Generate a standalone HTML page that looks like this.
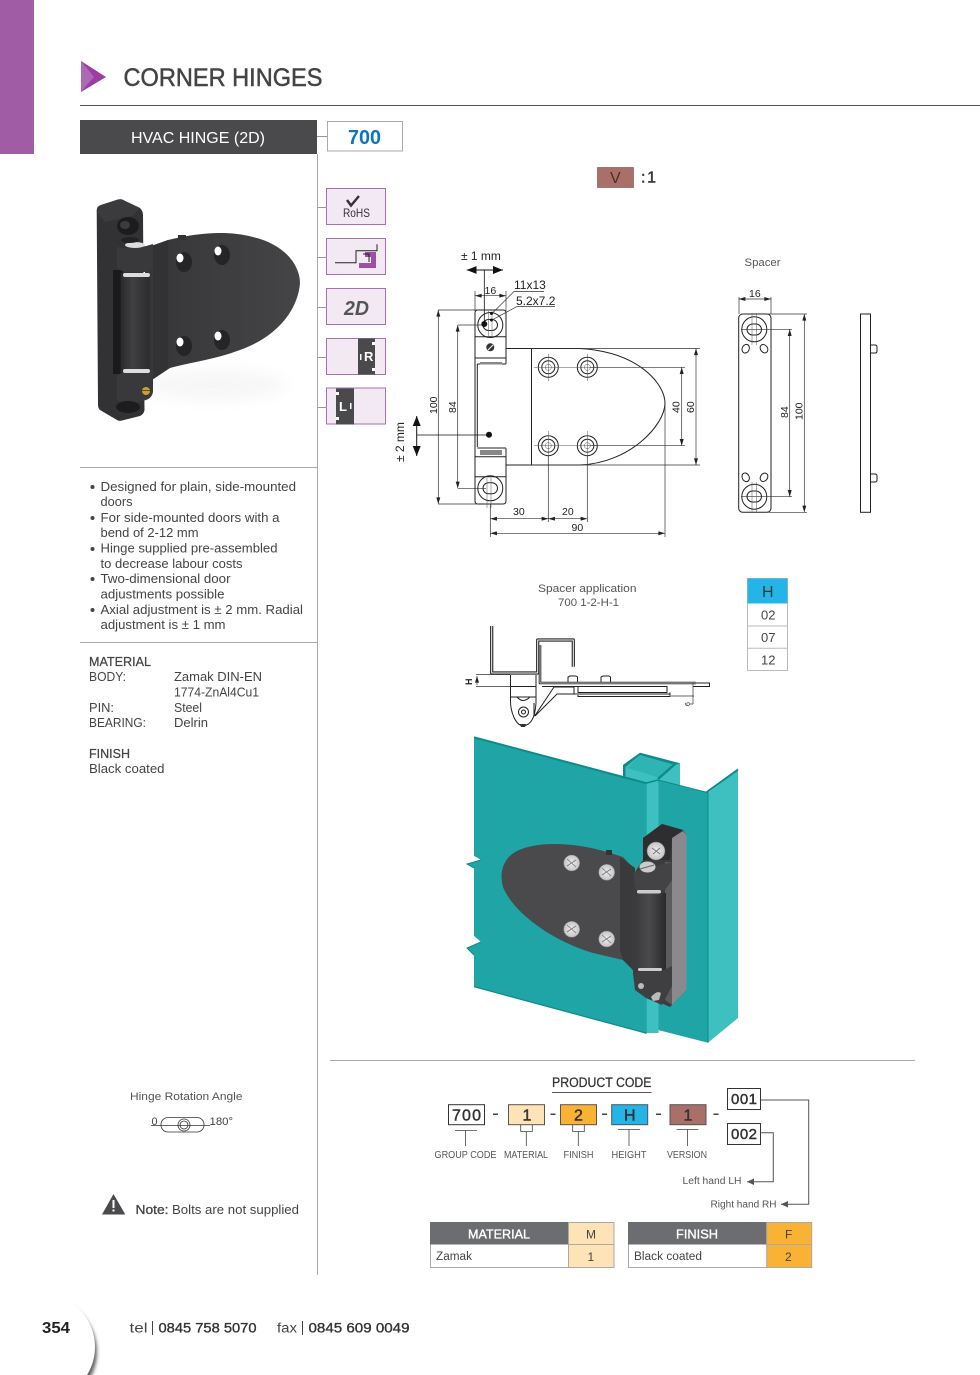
<!DOCTYPE html>
<html><head><meta charset="utf-8"><title>Corner Hinges</title>
<style>
html,body{margin:0;padding:0;background:#fff}
svg{display:block}
text{font-family:"Liberation Sans",sans-serif;fill:#444}
.d{font-size:10.5px;fill:#222}
.b{font-size:13px;fill:#444}
.l{font-size:10px;fill:#555}
.m{stroke:#333;stroke-width:.45;fill:#333}
.dim{fill:none;stroke:#333;stroke-width:.7}
.dr{fill:none;stroke:#222;stroke-width:1}
</style></head><body>
<svg xmlns="http://www.w3.org/2000/svg" width="980" height="1375" viewBox="0 0 980 1375">
<defs>
<marker id="a" viewBox="0 0 10 6" refX="10" refY="3" markerWidth="7" markerHeight="4" orient="auto-start-reverse" markerUnits="userSpaceOnUse"><path d="M0 0L10 3L0 6Z" fill="#222"/></marker>
<marker id="A" viewBox="0 0 10 8" refX="10" refY="4" markerWidth="10" markerHeight="9" orient="auto-start-reverse" markerUnits="userSpaceOnUse"><path d="M0 0L10 4L0 8Z" fill="#111"/></marker>
<filter id="bl" x="-30%" y="-30%" width="160%" height="160%"><feGaussianBlur stdDeviation="1.800"/></filter>
<filter id="bl2" x="-30%" y="-60%" width="160%" height="220%"><feGaussianBlur stdDeviation="7"/></filter>
<linearGradient id="cyl" x1="0" x2="1" y1="0" y2="0"><stop offset="0" stop-color="#2a2a2c"/><stop offset=".4" stop-color="#404042"/><stop offset="1" stop-color="#2c2c2e"/></linearGradient>
<linearGradient id="cyl2" x1="0" x2="1" y1="0" y2="0"><stop offset="0" stop-color="#3a3a3c"/><stop offset=".45" stop-color="#4a4a4c"/><stop offset="1" stop-color="#2a2a2c"/></linearGradient>
<linearGradient id="lf" x1="0" x2="1" y1="0" y2="0"><stop offset="0" stop-color="#363638"/><stop offset="1" stop-color="#454547"/></linearGradient>
<radialGradient id="sc"><stop offset="0" stop-color="#eee"/><stop offset="1" stop-color="#c4c4c4"/></radialGradient>
</defs>

<!-- page header -->
<rect x="0" y="0" width="34" height="154" fill="#a15ca6"/>
<path d="M81 61L106 77L81 92Z" fill="#9c3da3"/><path d="M81 61L94 77L81 92Z" fill="#ac6ab5"/>
<text x="123.500" y="86" font-size="25" textLength="199" lengthAdjust="spacingAndGlyphs" style="fill:#444;stroke:#444;stroke-width:.5">CORNER HINGES</text>
<rect x="80" y="105" width="900" height="1" fill="#555"/>

<rect x="80" y="120" width="237" height="34" fill="#4a4a4c"/>
<text x="131" y="143" font-size="16" style="fill:#fff" textLength="134" lengthAdjust="spacingAndGlyphs">HVAC HINGE (2D)</text>
<rect x="317" y="154" width="1" height="1121" fill="#aaa"/>
<rect x="317" y="136" width="10" height="1" fill="#999"/>
<rect x="327.500" y="121.500" width="75" height="29.500" fill="#fff" stroke="#aaa"/>
<text x="348" y="144" font-size="20" font-weight="bold" style="fill:#0f75bc" textLength="33" lengthAdjust="spacingAndGlyphs">700</text>

<!-- icons -->
<g fill="#f2e9f3" stroke="#a76fb2">
<rect x="326.500" y="188.500" width="59" height="36"/><rect x="326.500" y="238.500" width="59" height="36"/><rect x="326.500" y="288.500" width="59" height="36"/><rect x="326.500" y="338.500" width="59" height="36"/><rect x="326.500" y="388" width="59" height="36"/>
</g>
<g fill="#999"><rect x="318" y="207" width="9" height="1"/><rect x="318" y="257" width="9" height="1"/><rect x="318" y="307" width="9" height="1"/><rect x="318" y="357" width="9" height="1"/><rect x="318" y="407" width="9" height="1"/></g>
<path d="M347 200l4 5.500L359 196" fill="none" stroke="#333" stroke-width="2.400"/>
<text x="343" y="217" font-size="12" style="fill:#333" textLength="27" lengthAdjust="spacingAndGlyphs">RoHS</text>
<path d="M365 252h11v16h-17v-5h12v-6h-6z" fill="#9b4fa5"/>
<path d="M335 262.700h21v-12h21v-6.500M363 254h6v8" fill="none" stroke="#222" stroke-width="1"/>
<text x="344" y="315" font-size="20" font-style="italic" font-weight="bold" style="fill:#555" textLength="25" lengthAdjust="spacingAndGlyphs">2D</text>
<rect x="358" y="338.500" width="17" height="36" fill="#4a4a4c"/>
<rect x="360" y="354" width="1.500" height="6" fill="#fff"/><rect x="372" y="342" width="3" height="3" fill="#fff"/><rect x="372" y="368" width="3" height="3" fill="#fff"/>
<text x="364" y="361" font-size="13" font-weight="bold" style="fill:#fff">R</text>
<rect x="336" y="388.500" width="18" height="36" fill="#4a4a4c"/>
<rect x="336" y="392" width="3" height="3" fill="#fff"/><rect x="336" y="417" width="3" height="3" fill="#fff"/><rect x="350" y="403" width="1.500" height="6" fill="#fff"/>
<text x="339" y="411" font-size="13" font-weight="bold" style="fill:#fff">L</text>

<!-- photo hinge -->
<ellipse cx="215" cy="385" rx="70" ry="16" fill="#e4e4e4" filter="url(#bl2)" opacity=".3"/>
<path d="M145 248L168 240C197 233 227 230 253 237C287 245 300 267 300 283C298 310 277 337 240 350C213 360 187 363 170 368L152 380L145 385Z" fill="url(#lf)"/>
<path d="M153 246L168 240V368L153 379Z" fill="#323234"/>
<rect x="178" y="235" width="8" height="5" fill="#333"/>
<path d="M101 205L118 199.500Q122 198.500 125 201L140 208Q143 211 143 215L144.500 410Q144 414 140 416L122 420.500Q119 421.500 117 420L100 410Q98 408 98 405L96.700 210Q97 206 101 205Z" fill="#323234"/>
<path d="M101 205L118 199.500Q122 198.500 125 201L140 208L133 216L105 222L96.700 212Z" fill="#3b3b3d"/>
<rect x="113" y="270" width="10" height="104" fill="#1a1a1c"/>
<rect x="120.700" y="273" width="29.500" height="100" fill="url(#cyl)"/>
<path d="M117 247Q135 250 153 244V268L148 272H124L117 268Z" fill="#39393b"/>
<path d="M117 375L124 372H148L153 368V392Q152 398 146 400L126 405L117 400Z" fill="#39393b"/>
<ellipse cx="135" cy="245" rx="10" ry="3" fill="#ddd"/>
<rect x="123" y="273" width="27" height="4" rx="2" fill="#ddd"/>
<rect x="123" y="369" width="27" height="4" rx="2" fill="#ddd"/>
<ellipse cx="128" cy="226" rx="11" ry="9" fill="#1c1c1e"/><ellipse cx="125" cy="225" rx="5" ry="4" fill="#3c3c3e"/>
<ellipse cx="130" cy="240" rx="9" ry="3" fill="#222"/>
<ellipse cx="128" cy="407" rx="12" ry="6" fill="#1c1c1e"/>
<circle cx="146" cy="391" r="4" fill="#c8a030"/><rect x="142" y="390" width="8" height="1" fill="#6a5010"/>
<g><ellipse cx="184" cy="262" rx="8" ry="10" fill="#252527"/><ellipse cx="180" cy="258" rx="3.500" ry="4.500" fill="#fff"/>
<ellipse cx="222" cy="255" rx="8" ry="10" fill="#252527"/><ellipse cx="218" cy="251" rx="3.500" ry="4.500" fill="#fff"/>
<ellipse cx="184" cy="346" rx="8" ry="10" fill="#252527"/><ellipse cx="180" cy="342" rx="3.500" ry="4.500" fill="#fff"/>
<ellipse cx="222" cy="340" rx="8" ry="10" fill="#252527"/><ellipse cx="218" cy="336" rx="3.500" ry="4.500" fill="#fff"/></g>

<!-- left text -->
<g class="b">
<circle cx="92.500" cy="487" r="2" fill="#444"/><circle cx="92.500" cy="518" r="2" fill="#444"/><circle cx="92.500" cy="549" r="2" fill="#444"/><circle cx="92.500" cy="579" r="2" fill="#444"/><circle cx="92.500" cy="610" r="2" fill="#444"/>
<text class="b" x="100.500" y="491" textLength="195.500" lengthAdjust="spacingAndGlyphs">Designed for plain, side-mounted</text>
<text class="b" x="100.500" y="506" textLength="32" lengthAdjust="spacingAndGlyphs">doors</text>
<text class="b" x="100.500" y="522" textLength="179" lengthAdjust="spacingAndGlyphs">For side-mounted doors with a</text>
<text class="b" x="100.500" y="537" textLength="98" lengthAdjust="spacingAndGlyphs">bend of 2-12 mm</text>
<text class="b" x="100.500" y="552.500" textLength="177" lengthAdjust="spacingAndGlyphs">Hinge supplied pre-assembled</text>
<text class="b" x="100.500" y="568" textLength="142" lengthAdjust="spacingAndGlyphs">to decrease labour costs</text>
<text class="b" x="100.500" y="583" textLength="130" lengthAdjust="spacingAndGlyphs">Two-dimensional door</text>
<text class="b" x="100.500" y="598.500" textLength="124" lengthAdjust="spacingAndGlyphs">adjustments possible</text>
<text class="b" x="100.500" y="614" textLength="202.500" lengthAdjust="spacingAndGlyphs">Axial adjustment is ± 2 mm. Radial</text>
<text class="b" x="100.500" y="629" textLength="125" lengthAdjust="spacingAndGlyphs">adjustment is ± 1 mm</text>
<text class="b" x="89" y="666" textLength="62" lengthAdjust="spacingAndGlyphs" style="stroke:#444;stroke-width:.25">MATERIAL</text>
<text class="b" x="89" y="681" textLength="37" lengthAdjust="spacingAndGlyphs">BODY:</text>
<text class="b" x="174" y="681" textLength="88" lengthAdjust="spacingAndGlyphs">Zamak DIN-EN</text>
<text class="b" x="174" y="696.500" textLength="85" lengthAdjust="spacingAndGlyphs">1774-ZnAl4Cu1</text>
<text class="b" x="89" y="712" textLength="25" lengthAdjust="spacingAndGlyphs">PIN:</text>
<text class="b" x="174" y="712" textLength="28" lengthAdjust="spacingAndGlyphs">Steel</text>
<text class="b" x="89" y="727" textLength="57" lengthAdjust="spacingAndGlyphs">BEARING:</text>
<text class="b" x="174" y="727" textLength="34" lengthAdjust="spacingAndGlyphs">Delrin</text>
<text class="b" x="89" y="758" textLength="41" lengthAdjust="spacingAndGlyphs" style="stroke:#444;stroke-width:.25">FINISH</text>
<text class="b" x="89" y="773" textLength="75.500" lengthAdjust="spacingAndGlyphs">Black coated</text>
</g>
<rect x="80" y="467" width="237" height="1" fill="#aaa"/>
<rect x="80" y="642" width="237" height="1" fill="#aaa"/>

<!-- V:1 -->
<rect x="597.500" y="167.500" width="36" height="20" fill="#a9706a" stroke="#8a5a55" stroke-width=".7"/>
<text x="610" y="183" font-size="16" style="fill:#4a2f2c">V</text>
<text x="641" y="182.500" font-size="16" textLength="15" lengthAdjust="spacing" class="m">: 1</text>

<!-- main technical drawing -->
<g>
<path class="dr" d="M506 364V313Q506 310 503 310H478Q475 310 475 313V501Q475 504 478 504H503Q506 504 506 501V448.300"/>
<path class="dr" d="M475 336.700H506M475 358H506M477.300 364H506M477.300 364V447M477.300 448H506M475 456.700H506M475 476.700H506M506 348.500H531.500M506 465H531.500"/>
<path d="M480 362h22v2.500h-22zM480 450h22v5h-22z" fill="#888"/>
<path class="dr" d="M531.500 348.500V465M531.500 348.500H580C640 352 665 385 665 403C665 425 630 463 580 465H531.500"/>
<circle class="dr" cx="490.300" cy="325" r="12.500"/><rect class="dr" x="483" y="319.500" width="14.500" height="11" rx="5.500"/>
<circle class="dr" cx="490.300" cy="488.300" r="12.500"/><rect class="dr" x="483" y="482.800" width="14.500" height="11" rx="5.500"/>
<circle cx="490.300" cy="347.300" r="4" fill="#333"/><path d="M488 350l5-5" stroke="#fff"/>
<g class="dr">
<circle cx="548.300" cy="367.300" r="10"/><circle cx="548.300" cy="367.300" r="6.500"/>
<circle cx="587.300" cy="367.300" r="10"/><circle cx="587.300" cy="367.300" r="6.500"/>
<circle cx="548.300" cy="445.700" r="10"/><circle cx="548.300" cy="445.700" r="6.500"/>
<circle cx="587.300" cy="445.700" r="10"/><circle cx="587.300" cy="445.700" r="6.500"/>
</g>
<g fill="none" stroke="#555" stroke-width=".5"><circle cx="548.300" cy="367.300" r="3"/><circle cx="587.300" cy="367.300" r="3"/><circle cx="548.300" cy="445.700" r="3"/><circle cx="587.300" cy="445.700" r="3"/></g>
<path fill="none" stroke="#555" stroke-width=".5" d="M534 367.300H600M548.300 354V381M587.300 354V381M534 445.700H600M548.300 431V460M587.300 431V460M488.700 311V338M492 311V338M487 478V508M491 478V508"/>
<!-- dims -->
<path class="dim" d="M438 310H478M438 504H478M458 325H486M458 488.300H486M475 311V291M506 311V291M490.300 504V537M548.300 456V522M587.300 456V522M665 405V537M531 348.500H700M531 465H700M590 367.300H685M590 445.700H685"/>
<path class="dim" marker-start="url(#a)" marker-end="url(#a)" d="M438.300 310V504"/>
<path class="dim" marker-start="url(#a)" marker-end="url(#a)" d="M457.700 325V488.300"/>
<path class="dim" marker-start="url(#a)" marker-end="url(#a)" d="M681.700 367.300V445.700"/>
<path class="dim" marker-start="url(#a)" marker-end="url(#a)" d="M696 348.500V465"/>
<path class="dim" marker-start="url(#a)" marker-end="url(#a)" d="M475 295.700H506"/>
<path class="dim" marker-start="url(#a)" marker-end="url(#a)" d="M490.300 518.700H548.300"/>
<path class="dim" marker-start="url(#a)" marker-end="url(#a)" d="M548.300 518.700H587.300"/>
<path class="dim" marker-start="url(#a)" marker-end="url(#a)" d="M490.300 533.300H665"/>
<text class="d" x="484.500" y="294">16</text>
<text class="d" x="513" y="515">30</text>
<text class="d" x="562" y="515">20</text>
<text class="d" x="571.500" y="531">90</text>
<text class="d" transform="translate(437,414) rotate(-90)">100</text>
<text class="d" transform="translate(456,413) rotate(-90)">84</text>
<text class="d" transform="translate(679.500,413) rotate(-90)">40</text>
<text class="d" transform="translate(694,413) rotate(-90)">60</text>
<text x="514" y="289" font-size="12" style="fill:#222">11x13</text>
<text x="516" y="305" font-size="12" style="fill:#222">5.2x7.2</text>
<path class="dim" d="M544 291.500H514L492 313.500M555 306.500H517L492 320"/>
<circle cx="491.500" cy="313.500" r="1.500" fill="#111"/><circle cx="491.500" cy="320" r="1.500" fill="#111"/>
<text x="461" y="260" font-size="12" style="fill:#222">± 1 mm</text>
<path d="M466.700 270H503" stroke="#111" stroke-width="1" marker-start="url(#A)" marker-end="url(#A)"/>
<path d="M484.300 270V324" stroke="#111" stroke-width=".8"/>
<circle cx="484.300" cy="324" r="3" fill="#111"/>
<text transform="translate(404,462) rotate(-90)" font-size="12" style="fill:#222">± 2 mm</text>
<path d="M416.700 416V456" stroke="#111" stroke-width="1" marker-start="url(#A)" marker-end="url(#A)"/>
<path d="M416.700 435H489" stroke="#111" stroke-width=".8"/>
<circle cx="489" cy="434.700" r="3" fill="#111"/>
</g>

<!-- spacer -->
<text x="744.500" y="266" font-size="11" style="fill:#555" textLength="36" lengthAdjust="spacingAndGlyphs">Spacer</text>
<rect class="dr" x="738.700" y="314" width="32.300" height="198.300" rx="4"/>
<g class="dr">
<circle cx="754.300" cy="329.300" r="12.500"/><rect x="747" y="324" width="14.500" height="11" rx="5.500"/>
<circle cx="754.300" cy="496.700" r="12.500"/><rect x="747" y="491" width="14.500" height="11" rx="5.500"/>
<ellipse cx="745.700" cy="348.700" rx="3.500" ry="4.500" transform="rotate(25 745.700 348.700)"/><ellipse cx="764" cy="348.700" rx="3.500" ry="4.500" transform="rotate(-35 764 348.700)"/>
<ellipse cx="745.700" cy="477.300" rx="3.500" ry="4.500" transform="rotate(-25 745.700 477.300)"/><ellipse cx="764" cy="477.300" rx="3.500" ry="4.500" transform="rotate(35 764 477.300)"/>
</g>
<path class="dim" d="M739 314V297M771 314V297M768 314H807M768 512.300H807M741 329.300H792M741 496.700H792"/>
<path class="dim" marker-start="url(#a)" marker-end="url(#a)" d="M738.700 299H771"/>
<path class="dim" marker-start="url(#a)" marker-end="url(#a)" d="M789.700 329.300V496.700"/>
<path class="dim" marker-start="url(#a)" marker-end="url(#a)" d="M804.300 314V512.300"/>
<path fill="none" stroke="#555" stroke-width=".5" d="M752 313V345M756.500 313V345M752 482V512M756.500 482V512"/>
<text class="d" x="749" y="297">16</text>
<text class="d" transform="translate(788,418) rotate(-90)">84</text>
<text class="d" transform="translate(802.500,420) rotate(-90)">100</text>
<rect class="dr" x="860.500" y="314" width="10" height="198.300"/>
<path class="dr" d="M870.700 345H875Q877 345 877 347V351Q877 353 875 353H870.700M870.700 474H875Q877 474 877 476V480Q877 482 875 482H870.700"/>

<!-- spacer application -->
<text x="538" y="592" font-size="11" style="fill:#555" textLength="98.500" lengthAdjust="spacingAndGlyphs">Spacer application</text>
<text x="558" y="606" font-size="11" style="fill:#555" textLength="61" lengthAdjust="spacingAndGlyphs">700 1-2-H-1</text>
<g fill="none" stroke-linejoin="round">
<path d="M491.700 626V673H537.700V640H573.300V666.700" stroke="#222" stroke-width="3.200"/>
<path d="M491.700 626V673H537.700V640H573.300V666.700" stroke="#fff" stroke-width="1"/>
<path d="M540 645V683H696" stroke="#222" stroke-width="2.600"/>
<path d="M540 645V683H696" stroke="#fff" stroke-width=".7"/>
</g>
<path class="dr" stroke-width=".8" d="M696 683H709.500V686.500H693M542 686.500H667V692.500H578V687M574 687V694H670M670 692.500V696.500H578V695M574 687H554L536 714L534 716V703M574 694H557L535 716"/>
<path class="dr" stroke-width=".8" d="M510.500 675V701C510.500 711 515 725 523 726C531 725 535 718 536 703V675M511 686.500H536M511 697H536M517 697Q523 704 530 697"/>
<circle class="dr" cx="523.500" cy="712" r="5"/><circle class="dr" cx="523.500" cy="712" r="2"/>
<path d="M520 724h6l-1 3h-4z" fill="#333"/>
<path class="dr" stroke-width=".8" d="M568 682V677L570 676H576L577.500 677V682M601 682V677L603 676H609L610.500 677V682"/>
<path class="dim" d="M476 674.500H510M476 686.500H510M671 696H694M693 683V704M693 704H690"/>
<path class="dim" marker-start="url(#a)" d="M477 676V685"/>
<text x="0" y="0" font-size="9" font-weight="bold" style="fill:#222" transform="translate(472,685) rotate(-90)">H</text>
<text x="0" y="0" font-size="7" style="fill:#222" transform="translate(690,706) rotate(-90)">6</text>

<rect x="747.500" y="578.500" width="40" height="92" fill="#fff" stroke="#bbb"/>
<rect x="747.500" y="578.500" width="40" height="25" fill="#25b4e8"/>
<path d="M747.500 626H787.500M747.500 648.300H787.500" stroke="#bbb"/>
<text x="762" y="597" font-size="16" style="fill:#3a3a3a">H</text>
<text x="761" y="619.500" font-size="13">02</text>
<text x="761" y="642" font-size="13">07</text>
<text x="761" y="664.500" font-size="13">12</text>

<!-- door scene -->
<g>
<path d="M623 765L640 752.700L680 763.300V790L623 780Z" fill="#3fc0c0"/>
<path d="M640 755L675 765L660 778L627 768Z" fill="#2fb4b4"/>
<path d="M623 765L640 752.700L680 763.300L675 765L640 755L625.500 767V782L623 780Z" fill="#0e8a8a"/>
<path d="M675 764L658 779" stroke="#0e8a8a" stroke-width="2.500"/>
<path d="M658 780L708 792.700V1042.700L658 1030Z" fill="#1fa5a5"/>
<path d="M708 792.700L738 770V1018L708 1042.700Z" fill="#3fc0c0"/>
<path d="M706.500 792.300L738 769.500" stroke="#0e8a8a" stroke-width="2" fill="none"/>
<path d="M658 780L708 792.700V1042.700" stroke="#0e8a8a" stroke-width="1" fill="none"/>
<rect x="646.500" y="783" width="12" height="250" fill="#3fc0c0"/>
<path d="M646.500 783L658 780" stroke="#0e8a8a" stroke-width="1.500"/>
<path d="M474 737.300L646.700 783.300V1033.300L474 986.700V955L467 948L481 942L474 936V868L467 864L481 860L474 856Z" fill="#1fa5a5"/>
<path d="M474 737.300L646.700 783.300" stroke="#0e8a8a" stroke-width="2"/>
<path d="M474 986.700L646.700 1033.300" stroke="#0e8a8a" stroke-width="1.200"/>
<path d="M467 864L481 860L474 856V737.300H460V880H474V868ZM467 948L481 942L474 936V880H460V990H474V955Z" fill="#fff"/>
<path d="M474 868L467 864L481 860M474 955L467 948L481 942" stroke="#0e8a8a" fill="none"/>
<path d="M607 852C573 842 537 841 517 851C503 858 499 873 503 887C513 912 550 940 593 953L623 960L635 972V870L623 857Z" fill="#4a4a4c"/>
<path d="M620 857L635 868V972L623 960L620 950Z" fill="#3a3a3c"/>
<rect x="606" y="850" width="6" height="5" fill="#333"/>
<g fill="url(#sc)" stroke="#888" stroke-width=".5">
<circle cx="571.700" cy="863" r="8"/><circle cx="606.700" cy="872.300" r="8"/><circle cx="571.700" cy="929.300" r="8"/><circle cx="606.700" cy="939" r="8"/>
</g>
<path d="M567 859l9 8M576 860l-9 6M602 868l9 8M611 869l-9 6M567 925l9 8M576 926l-9 6M602 935l9 8M611 936l-9 6" stroke="#777" stroke-width=".8"/>
<!-- block -->
<path d="M643 838L662 824L683 830L686.500 835V990L670 1007L650 998L635 990L633 973V875L643 860Z" fill="#3c3c3e"/>
<path d="M672 838L683 831L686.500 835V990L672 1005Z" fill="#8a8a8c"/>
<path d="M665 862H672V1005L665 1000Z" fill="#5c5c5e"/>
<path d="M643 838L662 824L683 830L672 838L670 860H643Z" fill="#2e2e30"/>
<rect x="635" y="893" width="31" height="78" fill="url(#cyl2)"/>
<path d="M633 872L672 862V880L665 890H636Z" fill="#434345"/>
<path d="M635 972H660L672 966V986L662 1005L646 998L635 990Z" fill="#3f3f41"/>
<circle cx="656" cy="851" r="9" fill="url(#sc)" stroke="#777" stroke-width=".5"/>
<path d="M652 848l8 6M660 848l-7 6" stroke="#777"/>
<ellipse cx="647.500" cy="867" rx="8" ry="5.500" fill="#ccc"/><path d="M640 869l14-4" stroke="#666"/>
<rect x="637" y="890" width="24" height="3.500" rx="1.700" fill="#ccc"/>
<rect x="638" y="968" width="24" height="3" rx="1.500" fill="#ccc"/>
<circle cx="641" cy="986" r="3" fill="#bbb"/>
<path d="M651 997q6-7 10-4l-2 7-6 1Z" fill="#bbb"/>
</g>

<!-- divider -->
<rect x="330" y="1060" width="585" height="1" fill="#aaa"/>

<!-- product code -->
<text x="552" y="1087" font-size="13.500" class="m" style="stroke-width:.25" textLength="99.500" lengthAdjust="spacingAndGlyphs">PRODUCT CODE</text>
<rect x="552" y="1092" width="99.500" height="1" fill="#555"/>
<g stroke="#555" stroke-width="1">
<rect x="448.500" y="1104.700" width="36" height="20" fill="#fff" stroke="#333"/>
<rect x="508.500" y="1104.700" width="36" height="20" fill="#fde3b5"/>
<rect x="560.500" y="1104.700" width="36" height="20" fill="#f9b233"/>
<rect x="611.700" y="1104.700" width="36" height="20" fill="#25b4e8"/>
<rect x="670" y="1104.700" width="36" height="20" fill="#a9706a"/>
<rect x="727.500" y="1088.500" width="33" height="21" fill="#fff" stroke="#333"/>
<rect x="727.500" y="1123.500" width="33" height="21" fill="#fff" stroke="#333"/>
</g>
<text x="452" y="1120.500" font-size="16" class="m" textLength="29" lengthAdjust="spacing">700</text>
<text x="522.500" y="1120.500" font-size="16" class="m">1</text>
<text x="574" y="1120.500" font-size="16" class="m">2</text>
<text x="624" y="1120.500" font-size="16" class="m">H</text>
<text x="683.500" y="1120.500" font-size="16" class="m">1</text>
<text x="731" y="1104" font-size="15" class="m" textLength="26" lengthAdjust="spacing">001</text>
<text x="731" y="1139" font-size="15" class="m" textLength="26" lengthAdjust="spacing">002</text>
<g fill="#444"><rect x="493" y="1113.500" width="5" height="1.500"/><rect x="550.500" y="1113.500" width="5" height="1.500"/><rect x="602" y="1113.500" width="5" height="1.500"/><rect x="656" y="1113.500" width="5" height="1.500"/><rect x="713.500" y="1113.500" width="5" height="1.500"/></g>
<path fill="none" stroke="#444" stroke-width=".8" d="M455 1130.500H477M465.500 1130.500V1146M520.700 1125V1131.500H532.300V1125M526.300 1131.500V1146M572.700 1125V1131.500H584.300V1125M578.300 1131.500V1146M618 1129.500H640M629 1129.500V1146M676.700 1129.500H698.300M687.500 1129.500V1146"/>
<text class="l" x="434.500" y="1158" textLength="62" lengthAdjust="spacingAndGlyphs">GROUP CODE</text>
<text class="l" x="504" y="1158" textLength="44" lengthAdjust="spacingAndGlyphs">MATERIAL</text>
<text class="l" x="563.500" y="1158" textLength="30" lengthAdjust="spacingAndGlyphs">FINISH</text>
<text class="l" x="611.500" y="1158" textLength="35" lengthAdjust="spacingAndGlyphs">HEIGHT</text>
<text class="l" x="667" y="1158" textLength="40" lengthAdjust="spacingAndGlyphs">VERSION</text>
<path fill="none" stroke="#555" stroke-width="1" d="M760.700 1100H808.700V1204.300H781"/>
<path fill="none" stroke="#555" stroke-width="1" d="M760.700 1132.700H773.300V1181.700H747"/>
<path d="M747 1181.700L754 1178.500V1185Z" fill="#555"/><path d="M781 1204.300L788 1201V1207.500Z" fill="#555"/>
<text class="l" x="682.500" y="1184" textLength="59" lengthAdjust="spacingAndGlyphs">Left hand LH</text>
<text class="l" x="710.500" y="1207.500" textLength="66" lengthAdjust="spacingAndGlyphs">Right hand RH</text>

<!-- tables -->
<rect x="430.500" y="1222.500" width="183.500" height="45" fill="#fff" stroke="#aaa"/>
<rect x="430" y="1222" width="138.500" height="22.500" fill="#6c6d70"/>
<rect x="568.500" y="1222.500" width="45.500" height="45" fill="#fde3b5" stroke="#aaa"/>
<path d="M568.500 1244.500H614" stroke="#aaa"/>
<text x="468" y="1238.500" font-size="13" style="fill:#fff;stroke:#fff;stroke-width:.35" textLength="62" lengthAdjust="spacingAndGlyphs">MATERIAL</text>
<text x="586" y="1238.500" font-size="12" style="fill:#444">M</text>
<text x="436" y="1260" font-size="11.500" textLength="36" lengthAdjust="spacingAndGlyphs">Zamak</text>
<text x="587.500" y="1261" font-size="12" style="fill:#444">1</text>
<rect x="628.500" y="1222.500" width="183" height="45" fill="#fff" stroke="#aaa"/>
<rect x="628" y="1222" width="139" height="22.500" fill="#6c6d70"/>
<rect x="766.700" y="1222.500" width="45" height="45" fill="#f9b233" stroke="#aaa"/>
<path d="M766.700 1244.500H811.700" stroke="#aaa"/>
<text x="676" y="1238.500" font-size="13" style="fill:#fff;stroke:#fff;stroke-width:.35" textLength="42" lengthAdjust="spacingAndGlyphs">FINISH</text>
<text x="785" y="1238.500" font-size="12" style="fill:#444">F</text>
<text x="634" y="1260" font-size="11.500" textLength="68" lengthAdjust="spacingAndGlyphs">Black coated</text>
<text x="785" y="1261" font-size="12" style="fill:#444">2</text>

<!-- rotation -->
<text x="130" y="1100" font-size="11" style="fill:#555" textLength="112.500" lengthAdjust="spacingAndGlyphs">Hinge Rotation Angle</text>
<rect x="161" y="1117.500" width="43" height="14.500" rx="7" fill="#fff" stroke="#333" stroke-width=".8"/>
<path d="M151 1125.500H210" stroke="#333" stroke-width=".8"/>
<circle cx="184" cy="1125" r="6" fill="none" stroke="#333" stroke-width=".8"/><circle cx="184" cy="1125" r="4" fill="none" stroke="#333" stroke-width=".8"/>
<text x="151.500" y="1125" font-size="11" style="fill:#444">0</text>
<text x="209.500" y="1125" font-size="11" style="fill:#444" textLength="23.500" lengthAdjust="spacingAndGlyphs">180°</text>

<!-- note -->
<path d="M113.500 1194L125.300 1214.500H102Z" fill="#4a4a4c"/>
<rect x="112.500" y="1200" width="2" height="8" fill="#fff"/><rect x="112.500" y="1209.500" width="2" height="2" fill="#fff"/>
<text x="135.500" y="1214" font-size="13" style="fill:#444;stroke:#444;stroke-width:.35" textLength="33" lengthAdjust="spacingAndGlyphs">Note:</text>
<text x="172" y="1214" font-size="13" textLength="127" lengthAdjust="spacingAndGlyphs">Bolts are not supplied</text>

<!-- footer -->
<circle cx="44" cy="1352" r="53" fill="#666" filter="url(#bl)"/>
<circle cx="42" cy="1347" r="53" fill="#fff"/>
<text x="42" y="1333" font-size="15.500" font-weight="bold" style="font-weight:bold;fill:#222" textLength="28" lengthAdjust="spacingAndGlyphs">354</text>
<text x="129.500" y="1332.500" font-size="14" style="fill:#444" textLength="18" lengthAdjust="spacingAndGlyphs">tel</text>
<rect x="152" y="1321" width="1" height="14" fill="#444"/>
<text x="158.500" y="1332.500" font-size="14" style="fill:#333;stroke:#333;stroke-width:.35" textLength="98" lengthAdjust="spacingAndGlyphs">0845 758 5070</text>
<text x="277" y="1332.500" font-size="14" style="fill:#444" textLength="20" lengthAdjust="spacingAndGlyphs">fax</text>
<rect x="302" y="1321" width="1" height="14" fill="#444"/>
<text x="308.500" y="1332.500" font-size="14" style="fill:#333;stroke:#333;stroke-width:.35" textLength="101" lengthAdjust="spacingAndGlyphs">0845 609 0049</text>
</svg>
</body></html>
